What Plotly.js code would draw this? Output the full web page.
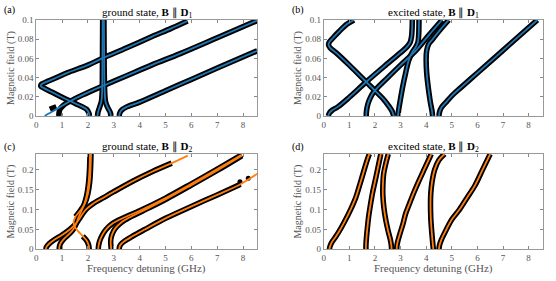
<!DOCTYPE html>
<html><head><meta charset="utf-8">
<script src="https://cdn.plot.ly/plotly-3.0.1.min.js"></script>
<style>html,body{margin:0;padding:0;background:#fff}#chart{width:556px;height:281px}</style>
</head><body><div id="chart"></div>
<script>
// ---------- Panel (a): ground state, B || D1  (frequency GHz, field T) ----------
const a1_f = [2.06,2.04,1.95,1.75,1.4,1.0,0.6,0.3,0.18,0.2,0.35,0.7,1.2,2.0,2.55,3.5,4.5,5.2,5.85];
const a1_b = [0,0.003,0.007,0.010,0.0145,0.0195,0.025,0.029,0.031,0.033,0.035,0.039,0.045,0.053,0.06,0.071,0.083,0.091,0.099];
const a2fit_f = [0.33,0.45,0.65,0.9,1.27,1.8,2.55,3.5,4.5,5.57,7,8.55];
const a2fit_b = [0,0.002,0.005,0.009,0.0148,0.022,0.031,0.042,0.0535,0.065,0.0815,0.0995];
const a2dat_f = [0.88,0.88,0.92,1.05,1.27,1.8,2.55,3.5,4.5,5.57,7,8.55];
const a2dat_b = [0,0.003,0.007,0.011,0.0148,0.022,0.031,0.042,0.0535,0.065,0.0815,0.0995];
const a2blob_f = [0.53,0.65,0.78];
const a2blob_b = [0.0069,0.0083,0.0097];
const a3_f = [2.37,2.39,2.45,2.52,2.55,2.56,2.57];
const a3_b = [0,0.004,0.009,0.015,0.025,0.05,0.1];
const a4_f = [2.89,2.86,2.76,2.68,2.65,2.63,2.62];
const a4_b = [0,0.004,0.009,0.015,0.025,0.05,0.1];
const a5_f = [3.21,3.23,3.3,3.5,4,5,6,7,8.55];
const a5_b = [0,0.003,0.006,0.0095,0.0145,0.0263,0.0381,0.0499,0.068];

// ---------- Panel (b): excited state, B || D1 ----------
const b1_f = [0.18,0.22,0.33,0.55,1.0,1.66,2.4,3.0,3.25,3.38,3.43,3.45,3.46];
const b1_b = [0,0.003,0.006,0.0095,0.0195,0.0355,0.0525,0.066,0.072,0.077,0.083,0.09,0.1];
const b2_f = [1.18,0.9,0.6,0.35,0.22,0.19,0.25,0.5,1.0,1.66,2.0,2.35,2.55,2.67,2.72,2.73];
const b2_b = [0.1,0.0955,0.088,0.081,0.077,0.074,0.071,0.0655,0.053,0.0355,0.0265,0.017,0.01,0.005,0.001,0];
const b3_f = [1.66,1.67,1.72,1.82,1.98,2.5,3.0,3.56,4.1,4.62];
const b3_b = [0,0.005,0.012,0.019,0.026,0.04,0.053,0.067,0.084,0.1];
const b4_f = [2.9,2.92,2.98,3.08,3.2,3.32,3.45,3.6,3.68,3.71,3.72];
const b4_b = [0,0.005,0.015,0.03,0.045,0.058,0.066,0.072,0.077,0.085,0.1];
const b5_f = [4.25,4.23,4.16,4.08,4.02,4.0,4.02,4.1,4.25,4.52,4.88];
const b5_b = [0,0.005,0.015,0.03,0.045,0.06,0.068,0.075,0.08,0.089,0.1];
const b6_f = [4.5,4.52,4.6,4.8,5.0,5.32,6,7,8.34];
const b6_b = [0,0.004,0.009,0.015,0.021,0.0288,0.0448,0.0684,0.1];

// ---------- Panel (c): ground state, B || D2 ----------
const c1fit_f = [0.37,0.4,0.5,0.7,1.0,1.3,1.5,1.65,1.8,1.95,2.2,2.6,3.0,3.75,4.5,5.24,5.86];
const c1fit_b = [0,0.006,0.014,0.024,0.036,0.05,0.062,0.075,0.09,0.102,0.115,0.13,0.145,0.172,0.196,0.217,0.236];
const c1dat_f = [0.37,0.4,0.5,0.7,1.0,1.3,1.5,1.65,1.8,1.95,2.2,2.6,3.0,3.75,4.5,5.24];
const c1dat_b = [0,0.006,0.014,0.024,0.036,0.05,0.062,0.075,0.09,0.102,0.115,0.13,0.145,0.172,0.196,0.217];
const c2_f = [0.89,0.9,0.96,1.1,1.3,1.45,1.55,1.62,1.72,1.85,1.95,2.02,2.06,2.08];
const c2_b = [0,0.008,0.017,0.028,0.04,0.052,0.065,0.078,0.093,0.112,0.135,0.165,0.2,0.24];
const c3fit_f = [2.05,2.03,1.95,1.8,1.6,1.48,1.45,1.52,1.7,1.88,2.0,2.07,2.1,2.12];
const c3fit_b = [0,0.01,0.022,0.033,0.047,0.058,0.07,0.082,0.097,0.115,0.14,0.17,0.2,0.24];
const c3low_f = [2.05,2.03,1.95,1.8];
const c3low_b = [0,0.01,0.022,0.033];
const c3up_f = [1.52,1.7,1.88,2.0,2.07,2.1,2.12];
const c3up_b = [0.082,0.097,0.115,0.14,0.17,0.2,0.24];
const c4_f = [2.4,2.41,2.45,2.55,2.7,2.95,3.4,4,5,6,7,7.95];
const c4_b = [0,0.008,0.02,0.035,0.05,0.065,0.08,0.097,0.129,0.165,0.202,0.238];
const c5_f = [2.9,2.89,2.88,2.92,3.05,3.3,3.6,4.1,5,6,7,7.95];
const c5_b = [0,0.008,0.02,0.035,0.052,0.068,0.08,0.096,0.1255,0.1615,0.1985,0.2355];
const c6fit_f = [3.21,3.22,3.28,3.4,3.7,4.2,5,6,7,7.9,8.55];
const c6fit_b = [0,0.006,0.013,0.02,0.032,0.05,0.078,0.108,0.137,0.164,0.19];
const c6dat_f = [3.21,3.22,3.28,3.4,3.7,4.2,5,6,7,7.9];
const c6dat_b = [0,0.006,0.013,0.02,0.032,0.05,0.078,0.108,0.137,0.164];
const c6dots_f = [7.88,8.2];
const c6dots_b = [0.17,0.179];

// ---------- Panel (d): excited state, B || D2 ----------
const d1_f = [0.22,0.25,0.32,0.45,0.6,0.8,1.05,1.25,1.42,1.58,1.7,1.78];
const d1_b = [0,0.008,0.018,0.03,0.045,0.068,0.1,0.13,0.165,0.2,0.225,0.24];
const d2_f = [1.65,1.65,1.67,1.7,1.75,1.82,1.9,2.0,2.1,2.23];
const d2_b = [0,0.01,0.03,0.05,0.08,0.11,0.14,0.17,0.2,0.24];
const d3_f = [2.65,2.64,2.6,2.52,2.42,2.35,2.31,2.31,2.34,2.42,2.52];
const d3_b = [0,0.01,0.025,0.045,0.075,0.105,0.135,0.16,0.19,0.215,0.24];
const d4_f = [2.85,2.86,2.9,2.98,3.1,3.2,3.32,3.5,3.7,3.95,4.2];
const d4_b = [0,0.01,0.022,0.04,0.065,0.09,0.11,0.14,0.17,0.205,0.24];
const d5_f = [4.28,4.25,4.21,4.18,4.17,4.18,4.23,4.33,4.5,4.72];
const d5_b = [0,0.02,0.05,0.08,0.11,0.14,0.17,0.2,0.225,0.24];
const d6_f = [4.5,4.52,4.6,4.75,5.0,5.3,5.6,5.9,6.2,6.5];
const d6_b = [0,0.01,0.025,0.045,0.075,0.1,0.13,0.16,0.2,0.24];

// ---------- Text ----------
const panelLabels = ['(a)','(b)','(c)','(d)'];
const panelTitles = ['ground state, <b>B</b> \u2225 <b>D</b><sub>1</sub>','excited state, <b>B</b> \u2225 <b>D</b><sub>1</sub>',
                     'ground state, <b>B</b> \u2225 <b>D</b><sub>2</sub>','excited state, <b>B</b> \u2225 <b>D</b><sub>2</sub>'];
const yTitle = 'Magnetic field (T)';
const xTitle = 'Frequency detuning (GHz)';

const BLUE = '#1f77b4', ORANGE = '#ff7f0e';
const traces = [];
function dat(x, y, xa, ya){ traces.push({x:x,y:y,xaxis:xa,yaxis:ya,mode:'lines',line:{color:'#000',width:5.5,shape:'spline',smoothing:0.9},hoverinfo:'skip',showlegend:false}); }
function fit(x, y, xa, ya, c){ traces.push({x:x,y:y,xaxis:xa,yaxis:ya,mode:'lines',line:{color:c,width:1.8,shape:'spline',smoothing:0.9},hoverinfo:'skip',showlegend:false}); }
function dots(x, y, xa, ya){ traces.push({x:x,y:y,xaxis:xa,yaxis:ya,mode:'markers',marker:{color:'#000',size:5},hoverinfo:'skip',showlegend:false}); }

// panel a
[[a1_f,a1_b],[a2dat_f,a2dat_b],[a2blob_f,a2blob_b],[a3_f,a3_b],[a4_f,a4_b],[a5_f,a5_b]].forEach(p=>dat(p[0],p[1],'x','y'));
[[a1_f,a1_b],[a2fit_f,a2fit_b],[a3_f,a3_b],[a4_f,a4_b],[a5_f,a5_b]].forEach(p=>fit(p[0],p[1],'x','y',BLUE));
// panel b
[[b1_f,b1_b],[b2_f,b2_b],[b3_f,b3_b],[b4_f,b4_b],[b5_f,b5_b],[b6_f,b6_b]].forEach(p=>dat(p[0],p[1],'x2','y2'));
[[b1_f,b1_b],[b2_f,b2_b],[b3_f,b3_b],[b4_f,b4_b],[b5_f,b5_b],[b6_f,b6_b]].forEach(p=>fit(p[0],p[1],'x2','y2',BLUE));
// panel c
[[c1dat_f,c1dat_b],[c2_f,c2_b],[c3low_f,c3low_b],[c3up_f,c3up_b],[c4_f,c4_b],[c5_f,c5_b],[c6dat_f,c6dat_b]].forEach(p=>dat(p[0],p[1],'x3','y3'));
dots(c6dots_f,c6dots_b,'x3','y3');
[[c1fit_f,c1fit_b],[c2_f,c2_b],[c3fit_f,c3fit_b],[c4_f,c4_b],[c5_f,c5_b],[c6fit_f,c6fit_b]].forEach(p=>fit(p[0],p[1],'x3','y3',ORANGE));
// panel d
[[d1_f,d1_b],[d2_f,d2_b],[d3_f,d3_b],[d4_f,d4_b],[d5_f,d5_b],[d6_f,d6_b]].forEach(p=>dat(p[0],p[1],'x4','y4'));
[[d1_f,d1_b],[d2_f,d2_b],[d3_f,d3_b],[d4_f,d4_b],[d5_f,d5_b],[d6_f,d6_b]].forEach(p=>fit(p[0],p[1],'x4','y4',ORANGE));

const W = 556, H = 281;
const px = v => v / W, py = v => 1 - v / H;
const FONT = '"Liberation Serif", "Times New Roman", serif';
const GRAY = '#555';
const xBase = {range:[0,8.55], dtick:1, tick0:0, ticks:'inside', ticklen:3, tickcolor:'#888', showline:true, linecolor:'#999', linewidth:1, mirror:'allticks', showgrid:false, zeroline:false, tickfont:{family:FONT,size:9,color:GRAY}, fixedrange:true};
const yBase = {ticks:'inside', ticklen:3, tickcolor:'#888', showline:true, linecolor:'#999', linewidth:1, mirror:'allticks', showgrid:false, zeroline:false, tickfont:{family:FONT,size:9,color:GRAY}, fixedrange:true};
const xL = [px(36.2), px(257.3)], xR = [px(323.7), px(542.7)];
const yT = [py(116), py(20)], yB = [py(249.3), py(154)];

const layout = {
  width: W, height: H, margin:{l:0,r:0,t:0,b:0}, paper_bgcolor:'#fff', plot_bgcolor:'#fff', showlegend:false,
  font:{family:FONT},
  xaxis: Object.assign({}, xBase, {domain:xL, anchor:'y'}),
  yaxis: Object.assign({}, yBase, {domain:yT, anchor:'x', range:[0,0.1], dtick:0.02}),
  xaxis2: Object.assign({}, xBase, {domain:xR, anchor:'y2'}),
  yaxis2: Object.assign({}, yBase, {domain:yT, anchor:'x2', range:[0,0.1], dtick:0.02}),
  xaxis3: Object.assign({}, xBase, {domain:xL, anchor:'y3'}),
  yaxis3: Object.assign({}, yBase, {domain:yB, anchor:'x3', range:[0,0.24], dtick:0.05}),
  xaxis4: Object.assign({}, xBase, {domain:xR, anchor:'y4'}),
  yaxis4: Object.assign({}, yBase, {domain:yB, anchor:'x4', range:[0,0.24], dtick:0.05}),
  annotations: []
};
const ann = (text, x, y, size, color, extra) => layout.annotations.push(Object.assign({text:text, xref:'paper', yref:'paper', x:px(x), y:py(y), xanchor:'center', yanchor:'middle', showarrow:false, font:{family:FONT,size:size,color:color}}, extra||{}));
ann(panelLabels[0], 9, 10, 10, '#000');
ann(panelLabels[1], 298, 10, 10, '#000');
ann(panelLabels[2], 9, 147, 10, '#000');
ann(panelLabels[3], 298, 147, 10, '#000');
ann(panelTitles[0], 146.7, 13, 11, '#000');
ann(panelTitles[1], 433.2, 13, 11, '#000');
ann(panelTitles[2], 146.7, 147, 11, '#000');
ann(panelTitles[3], 433.2, 147, 11, '#000');
ann(yTitle, 11, 68, 10, GRAY, {textangle:-90});
ann(yTitle, 298, 68, 10, GRAY, {textangle:-90});
ann(yTitle, 11, 201.6, 10, GRAY, {textangle:-90});
ann(yTitle, 298, 201.6, 10, GRAY, {textangle:-90});
ann(xTitle, 146.7, 268, 11, GRAY);
ann(xTitle, 433.2, 268, 11, GRAY);

Plotly.newPlot('chart', traces, layout, {staticPlot:true, displayModeBar:false});
</script></body></html>
